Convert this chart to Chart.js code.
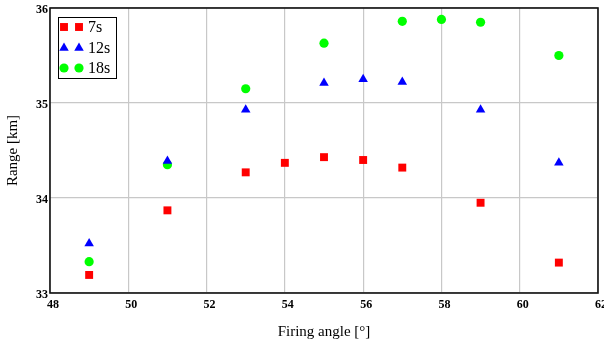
<!DOCTYPE html>
<html lang="en">
<head>
    <meta charset="UTF-8">
    <title>Range vs firing angle</title>
    <script src="https://cdn.jsdelivr.net/npm/chart.js"></script>
    <style>
        body {
            margin: 0;
            background-color: white;
        }

        .chart-container {
            position: relative;
            width: 604px;
            height: 345px;
        }
    </style>
</head>
<body>
    <div class="chart-container">
        <canvas id="rangeChart"></canvas>
    </div>

    <script>
        // Values
        const seriesNames = ['7s', '12s', '18s'];

        const angles7 = [49, 51, 53, 54, 55, 56, 57, 59, 61];
        const range7 = [33.19, 33.87, 34.27, 34.37, 34.43, 34.40, 34.32, 33.95, 33.32];

        const angles12 = [49, 51, 53, 55, 56, 57, 59, 61];
        const range12 = [33.52, 34.39, 34.93, 35.21, 35.25, 35.22, 34.93, 34.37];

        const angles18 = [49, 51, 53, 55, 57, 58, 59, 61];
        const range18 = [33.33, 34.35, 35.15, 35.63, 35.86, 35.88, 35.85, 35.50];

        const xTicks = [48, 50, 52, 54, 56, 58, 60, 62];
        const yTicks = [33, 34, 35, 36];

        const serif = "'Liberation Serif', 'Times New Roman', serif";

        function toPoints(xs, ys) {
            return xs.map((x, i) => ({ x: x, y: ys[i] }));
        }

        const styles = [
            { color: '#ff0000', pointStyle: 'rect', radius: 5.6 },
            { color: '#0000ff', pointStyle: 'triangle', radius: 5.5 },
            { color: '#00ff00', pointStyle: 'circle', radius: 4.6 }
        ];

        const allData = [
            toPoints(angles7, range7),
            toPoints(angles12, range12),
            toPoints(angles18, range18)
        ];

        // Legend drawn inside the plot box, two markers per entry
        const boxLegend = {
            id: 'boxLegend',
            afterDraw(chart) {
                const ctx = chart.ctx;
                ctx.save();
                ctx.fillStyle = 'white';
                ctx.fillRect(58, 17, 58, 61);
                ctx.strokeStyle = '#000';
                ctx.lineWidth = 1;
                ctx.strokeRect(58.5, 17.5, 58, 61);
                const rows = [27, 48, 68];
                seriesNames.forEach((name, i) => {
                    const st = styles[i];
                    ctx.fillStyle = st.color;
                    ctx.strokeStyle = st.color;
                    [64, 79].forEach(px => {
                        Chart.helpers.drawPoint(ctx, { pointStyle: st.pointStyle, radius: st.radius, rotation: 0, borderWidth: 0 }, px, rows[i]);
                    });
                    ctx.fillStyle = '#000';
                    ctx.font = '16px ' + serif;
                    ctx.textBaseline = 'middle';
                    ctx.textAlign = 'left';
                    ctx.fillText(name, 88, rows[i] + 1);
                });
                ctx.restore();
            }
        };

        // Black frame around the plot area
        const frame = {
            id: 'frame',
            afterDatasetsDraw(chart) {
                const a = chart.chartArea;
                const ctx = chart.ctx;
                ctx.save();
                ctx.strokeStyle = '#111';
                ctx.lineWidth = 1.6;
                ctx.strokeRect(a.left, a.top, a.right - a.left, a.bottom - a.top);
                ctx.restore();
            }
        };

        const ctx = document.getElementById('rangeChart').getContext('2d');
        const rangeChart = new Chart(ctx, {
            type: 'scatter',
            data: {
                datasets: seriesNames.map((name, i) => ({
                    label: name,
                    data: allData[i],
                    pointStyle: styles[i].pointStyle,
                    pointRadius: styles[i].radius,
                    pointHoverRadius: styles[i].radius,
                    backgroundColor: styles[i].color,
                    borderColor: styles[i].color,
                    pointBorderWidth: 0,
                    showLine: false
                }))
            },
            options: {
                responsive: true,
                maintainAspectRatio: false,
                animation: false,
                layout: {
                    padding: { top: 8, right: 6, left: 0, bottom: 0 }
                },
                scales: {
                    x: {
                        type: 'linear',
                        min: 48,
                        max: 62,
                        afterBuildTicks: s => { s.ticks = xTicks.map(v => ({ value: v })); },
                        afterFit: s => { s.height = 52; s.paddingLeft = 0; s.paddingRight = 0; },
                        grid: { color: '#c8c8c8', lineWidth: 1.2, drawTicks: false },
                        border: { display: false },
                        ticks: {
                            color: '#000',
                            padding: 5,
                            labelOffset: 3,
                            maxRotation: 0,
                            font: { family: serif, size: 12, weight: 'bold' }
                        },
                        title: {
                            display: true,
                            text: 'Firing angle [°]',
                            color: '#000',
                            padding: { top: 16 },
                            font: { family: serif, size: 15 }
                        }
                    },
                    y: {
                        type: 'linear',
                        min: 33,
                        max: 36,
                        afterBuildTicks: s => { s.ticks = yTicks.map(v => ({ value: v })); },
                        afterFit: s => { s.width = 50; s.paddingTop = 0; s.paddingBottom = 0; },
                        grid: { color: '#c8c8c8', lineWidth: 1.2, drawTicks: false },
                        border: { display: false },
                        ticks: {
                            color: '#000',
                            padding: 2,
                            labelOffset: 2,
                            font: { family: serif, size: 12, weight: 'bold' }
                        },
                        title: {
                            display: true,
                            text: 'Range [km]',
                            color: '#000',
                            padding: { top: 4, bottom: 12 },
                            font: { family: serif, size: 15 }
                        }
                    }
                },
                plugins: {
                    legend: { display: false },
                    tooltip: { enabled: false }
                }
            },
            plugins: [frame, boxLegend]
        });
    </script>
</body>
</html>
